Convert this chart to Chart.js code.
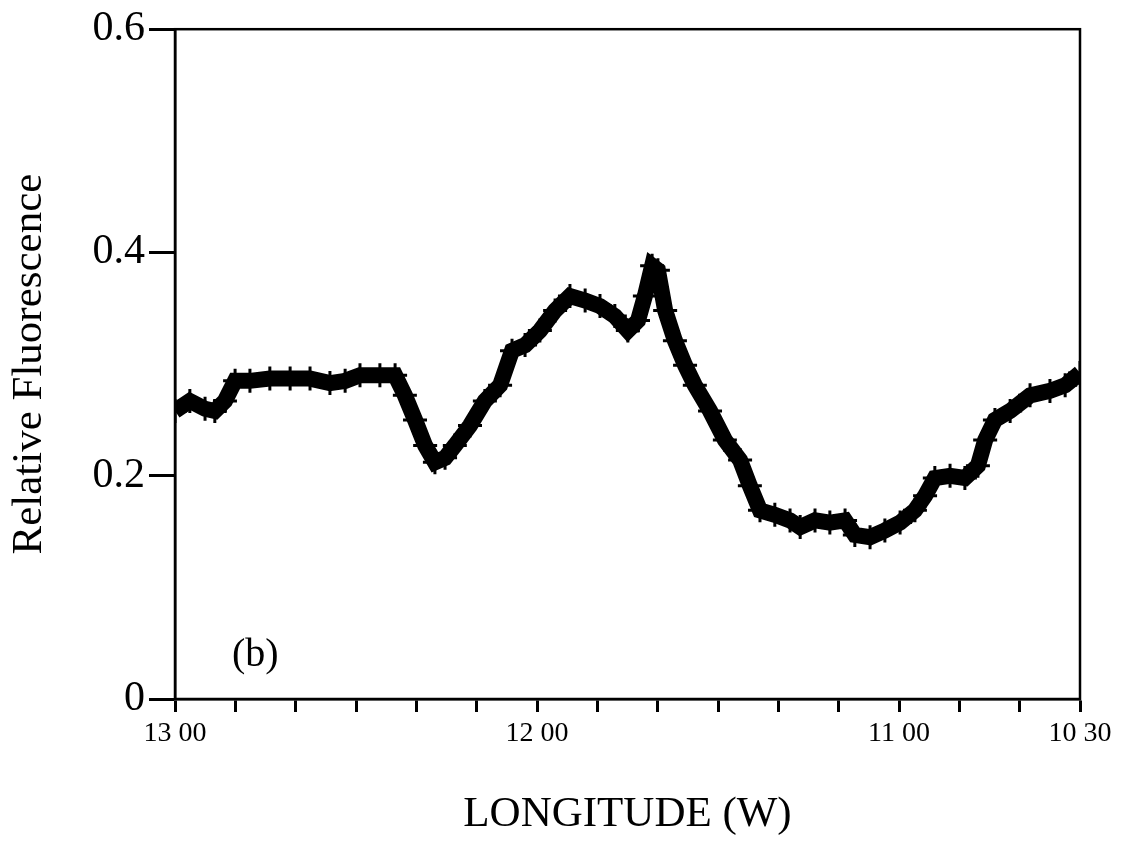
<!DOCTYPE html>
<html>
<head>
<meta charset="utf-8">
<script src="https://cdn.jsdelivr.net/npm/chart.js@4.4.1/dist/chart.umd.min.js"></script>
<style>
  html, body { margin: 0; padding: 0; background: #fff; }
  #wrap { width: 1129px; height: 845px; }
</style>
</head>
<body>
<div id="wrap"><canvas id="myChart" width="1129" height="845"></canvas></div>
<script>
// longitude (deg W) and relative fluorescence
var longitude = [13.000, 12.959, 12.917, 12.890, 12.862, 12.834, 12.793, 12.738, 12.682, 12.627,
  12.572, 12.530, 12.489, 12.434, 12.392, 12.365, 12.337, 12.309, 12.282, 12.254,
  12.227, 12.185, 12.144, 12.102, 12.069, 12.033, 11.992, 11.950, 11.909, 11.867,
  11.826, 11.785, 11.749, 11.721, 11.702, 11.682, 11.666, 11.646, 11.619, 11.591,
  11.564, 11.522, 11.481, 11.439, 11.412, 11.384, 11.343, 11.301, 11.273, 11.232,
  11.191, 11.149, 11.122, 11.080, 11.039, 10.997, 10.956, 10.928, 10.901, 10.859,
  10.818, 10.782, 10.762, 10.735, 10.693, 10.638, 10.583, 10.541, 10.500];
var fluorescence = [0.258, 0.267, 0.260, 0.258, 0.267, 0.285, 0.285, 0.287, 0.287, 0.287,
  0.283, 0.285, 0.290, 0.290, 0.290, 0.272, 0.250, 0.227, 0.212, 0.216,
  0.227, 0.245, 0.267, 0.281, 0.312, 0.317, 0.330, 0.348, 0.361, 0.357,
  0.352, 0.343, 0.330, 0.339, 0.361, 0.388, 0.384, 0.348, 0.321, 0.299,
  0.281, 0.258, 0.232, 0.214, 0.191, 0.169, 0.165, 0.160, 0.154, 0.160,
  0.158, 0.160, 0.147, 0.145, 0.151, 0.158, 0.169, 0.182, 0.198, 0.200,
  0.198, 0.209, 0.232, 0.250, 0.258, 0.272, 0.276, 0.281, 0.292];

// x ticks every 10 minutes, labels only on some
var xTickValues = [13, 12 + 50/60, 12 + 40/60, 12.5, 12 + 20/60, 12 + 10/60, 12,
  11 + 50/60, 11 + 40/60, 11.5, 11 + 20/60, 11 + 10/60, 11, 10 + 50/60, 10 + 40/60, 10.5];
var xTickLabels = ["13 00", "", "", "", "", "", "12 00", "", "", "", "", "", "11 00", "", "", "10 30"];
var yTickValues = [0, 0.2, 0.4, 0.6];
var yTickLabels = ["0", "0.2", "0.4", "0.6"];

var serif = "'Liberation Serif', 'Times New Roman', serif";

var pts = [];
for (var i = 0; i < longitude.length; i++) {
  pts.push({ x: longitude[i], y: fluorescence[i] });
}

// frame round the plot + the (b) label
var framePlugin = {
  id: 'frame',
  afterDraw: function(chart) {
    var a = chart.chartArea;
    var c = chart.ctx;
    c.save();
    c.strokeStyle = '#000';
    c.lineWidth = 2.5;
    c.strokeRect(a.left, a.top, a.right - a.left, a.bottom - a.top);
    c.fillStyle = '#000';
    c.font = '40px ' + serif;
    c.textBaseline = 'middle';
    c.fillText('(b)', 232, 655);
    c.restore();
  }
};

var ctx = document.getElementById("myChart").getContext("2d");
var myChart = new Chart(ctx, {
  type: 'line',
  data: {
    datasets: [{
      data: pts,
      borderColor: '#000',
      backgroundColor: '#000',
      borderWidth: 16,
      borderJoinStyle: 'miter',
      tension: 0,
      pointStyle: 'cross',
      pointRadius: 12,
      pointBorderWidth: 3,
      pointBorderColor: '#000'
    }]
  },
  options: {
    responsive: false,
    animation: false,
    layout: { padding: { top: 23, right: 49, left: 0, bottom: 0 } },
    plugins: { legend: { display: false }, tooltip: { enabled: false } },
    scales: {
      x: {
        type: 'linear',
        reverse: true,
        min: 10.5,
        max: 13,
        afterBuildTicks: function(scale) {
          scale.ticks = xTickValues.map(function(v) { return { value: v }; });
        },
        afterFit: function(scale) { scale.height = 146; },
        ticks: {
          autoSkip: false,
          maxRotation: 0,
          color: '#000',
          padding: 5,
          font: { family: serif, size: 28 },
          callback: function(v, idx) { return xTickLabels[idx]; }
        },
        grid: { drawOnChartArea: false, tickLength: 13, tickWidth: 3, color: '#000' },
        border: { color: '#000', width: 2.5 },
        title: {
          display: true,
          text: 'LONGITUDE (W)',
          color: '#000',
          font: { family: serif, size: 43 },
          padding: { top: 30 }
        }
      },
      y: {
        min: 0,
        max: 0.6,
        afterBuildTicks: function(scale) {
          scale.ticks = yTickValues.map(function(v) { return { value: v }; });
        },
        afterFit: function(scale) { scale.width = 175; },
        ticks: {
          color: '#000',
          padding: 4,
          font: { family: serif, size: 42 },
          callback: function(v, idx) { return yTickLabels[idx]; }
        },
        grid: { drawOnChartArea: false, tickLength: 26, tickWidth: 3, color: '#000' },
        border: { color: '#000', width: 2.5 },
        title: {
          display: true,
          text: 'Relative Fluorescence',
          color: '#000',
          font: { family: serif, size: 43 },
          padding: { bottom: 0 }
        }
      }
    }
  },
  plugins: [framePlugin]
});
</script>
</body>
</html>
